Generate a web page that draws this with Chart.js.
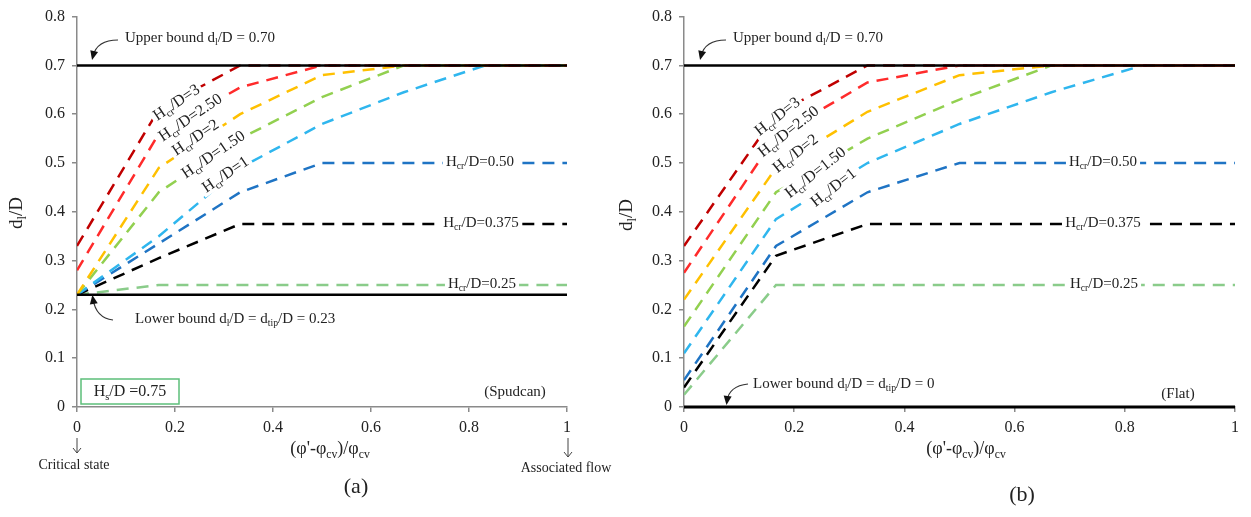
<!DOCTYPE html>
<html>
<head>
<meta charset="utf-8">
<script src="https://cdn.jsdelivr.net/npm/chart.js@4.4.0/dist/chart.umd.min.js"></script>
<style>
  html, body { margin: 0; padding: 0; background: #fff; }
  #wrap { position: relative; width: 1251px; height: 517px; }
  #wrap canvas { position: absolute; left: 0; top: 0; }
</style>
</head>
<body>
<div id="wrap">
  <canvas id="chartA" width="1251" height="517"></canvas>
  <canvas id="chartB" width="1251" height="517"></canvas>
</div>
<script>
// x positions of the computed points, (phi'-phi_cv)/phi_cv
var xSteps = [0, 0.167, 0.333, 0.5, 0.667, 0.833, 1];
var boundX = [0, 1];

var yTickValues = [0, 0.1, 0.2, 0.3, 0.4, 0.5, 0.6, 0.7, 0.8];
var yTickLabels = ['0', '0.1', '0.2', '0.3', '0.4', '0.5', '0.6', '0.7', '0.8'];
var xTickValues = [0, 0.2, 0.4, 0.6, 0.8, 1];
var xTickLabels = ['0', '0.2', '0.4', '0.6', '0.8', '1'];

// Hcr/D values, one per dashed curve
var ratioLabels = ['3', '2.50', '2', '1.50', '1', '0.50', '0.375', '0.25'];
var ratioColors = ['#C00000', '#FF2B2B', '#FFC000', '#92D050', '#2FB6EE', '#1F74C4', '#000000', '#8ACC8A'];

// (a) spudcan, Hs/D = 0.75
var spudH3    = [0.33, 0.61, 0.70, 0.70, 0.70, 0.70, 0.70];
var spudH250  = [0.28, 0.56, 0.655, 0.70, 0.70, 0.70, 0.70];
var spudH2    = [0.23, 0.49, 0.60, 0.68, 0.70, 0.70, 0.70];
var spudH150  = [0.23, 0.44, 0.55, 0.635, 0.70, 0.70, 0.70];
var spudH1    = [0.23, 0.35, 0.49, 0.58, 0.645, 0.70, 0.70];
var spudH050  = [0.23, 0.335, 0.44, 0.50, 0.50, 0.50, 0.50];
var spudH0375 = [0.23, 0.305, 0.375, 0.375, 0.375, 0.375, 0.375];
var spudH025  = [0.23, 0.25, 0.25, 0.25, 0.25, 0.25, 0.25];
var spudUpper = [0.70, 0.70];
var spudLower = [0.23, 0.23];

// (b) flat footing
var flatH3    = [0.33, 0.60, 0.70, 0.70, 0.70, 0.70, 0.70];
var flatH250  = [0.275, 0.555, 0.665, 0.70, 0.70, 0.70, 0.70];
var flatH2    = [0.22, 0.49, 0.605, 0.68, 0.70, 0.70, 0.70];
var flatH150  = [0.165, 0.44, 0.55, 0.63, 0.70, 0.70, 0.70];
var flatH1    = [0.11, 0.385, 0.50, 0.58, 0.645, 0.70, 0.70];
var flatH050  = [0.055, 0.33, 0.44, 0.50, 0.50, 0.50, 0.50];
var flatH0375 = [0.04, 0.31, 0.375, 0.375, 0.375, 0.375, 0.375];
var flatH025  = [0.025, 0.25, 0.25, 0.25, 0.25, 0.25, 0.25];
var flatUpper = [0.70, 0.70];
var flatLower = [0, 0];

var SERIF = '"Liberation Serif", "Times New Roman", serif';
var INK = '#222';

function pair(xs, ys) {
    return xs.map(function (x, i) { return { x: x, y: ys[i] }; });
}

function makeSets(curves, upper, lower, lowerWidth) {
    var sets = [
        { data: pair(boundX, upper), borderColor: '#000', borderWidth: 2.5, clip: false },
        { data: pair(boundX, lower), borderColor: '#000', borderWidth: lowerWidth, clip: false }
    ];
    curves.forEach(function (vals, i) {
        sets.push({
            data: pair(xSteps, vals),
            borderColor: ratioColors[i],
            borderWidth: 2.5,
            borderDash: [12, 8],
            tension: 0
        });
    });
    return sets;
}

// text with subscripts: parts = [[text, isSub], ...]
function richWidth(ctx, parts, size) {
    var w = 0;
    parts.forEach(function (p) {
        ctx.font = (p[1] ? size * 0.65 : size) + 'px ' + SERIF;
        w += ctx.measureText(p[0]).width;
    });
    return w;
}
function drawRich(ctx, parts, x, y, size, align) {
    var w = richWidth(ctx, parts, size);
    var cx = align === 'left' ? x : x - w / 2;
    var base = y + size * 0.33;
    ctx.textAlign = 'left';
    ctx.textBaseline = 'alphabetic';
    parts.forEach(function (p) {
        var s = p[1] ? size * 0.65 : size;
        ctx.font = s + 'px ' + SERIF;
        ctx.fillText(p[0], cx, base + (p[1] ? size * 0.22 : 0));
        cx += ctx.measureText(p[0]).width;
    });
    return w;
}
function hcr(val) {
    return [['H'], ['cr', 1], ['/D=' + val]];
}
function label(ctx, parts, x, y, size, angleDeg, bg) {
    ctx.save();
    ctx.translate(x, y);
    ctx.rotate(angleDeg * Math.PI / 180);
    if (bg) {
        var w = richWidth(ctx, parts, size);
        ctx.fillStyle = '#fff';
        ctx.fillRect(-w / 2 - 3, -size * 0.5, w + 6, size * 1.05);
    }
    ctx.fillStyle = INK;
    drawRich(ctx, parts, 0, 0, size, 'center');
    ctx.restore();
}
function curvedArrow(ctx, x0, y0, cx, cy, x1, y1) {
    ctx.save();
    ctx.strokeStyle = '#333';
    ctx.fillStyle = '#111';
    ctx.lineWidth = 1.2;
    ctx.beginPath();
    ctx.moveTo(x0, y0);
    ctx.quadraticCurveTo(cx, cy, x1, y1);
    ctx.stroke();
    var a = Math.atan2(y1 - cy, x1 - cx);
    ctx.beginPath();
    ctx.moveTo(x1 + Math.cos(a) * 4, y1 + Math.sin(a) * 4);
    ctx.lineTo(x1 - Math.cos(a) * 5 + Math.sin(a) * 4, y1 - Math.sin(a) * 5 - Math.cos(a) * 4);
    ctx.lineTo(x1 - Math.cos(a) * 5 - Math.sin(a) * 4, y1 - Math.sin(a) * 5 + Math.cos(a) * 4);
    ctx.closePath();
    ctx.fill();
    ctx.restore();
}
function downArrow(ctx, x, y0, y1) {
    ctx.save();
    ctx.strokeStyle = '#444';
    ctx.lineWidth = 1;
    ctx.beginPath();
    ctx.moveTo(x, y0);
    ctx.lineTo(x, y1);
    ctx.moveTo(x - 4, y1 - 5);
    ctx.lineTo(x, y1);
    ctx.lineTo(x + 4, y1 - 5);
    ctx.stroke();
    ctx.restore();
}

var axisTitleX = [['(φ\'-φ'], ['cv', 1], [')/φ'], ['cv', 1]];
var axisTitleY = [['d'], ['l', 1], ['/D']];

function makeOptions(pad, yWidth) {
    return {
        responsive: false,
        animation: false,
        events: [],
        layout: { padding: pad },
        plugins: { legend: { display: false }, tooltip: { enabled: false } },
        elements: { point: { radius: 0 }, line: { tension: 0 } },
        scales: {
            x: {
                type: 'linear', min: 0, max: 1,
                afterFit: function (s) { s.height = 110; },
                afterBuildTicks: function (s) { s.ticks = xTickValues.map(function (v) { return { value: v }; }); },
                border: { display: true, color: '#8a8a8a', width: 1.5 },
                grid: { display: true, drawOnChartArea: false, drawTicks: true, tickLength: 5, color: '#8a8a8a', lineWidth: 1.5 },
                ticks: {
                    padding: 6, color: INK, font: { family: SERIF, size: 16 },
                    maxRotation: 0,
                    callback: function (v, i) { return xTickLabels[i]; }
                }
            },
            y: {
                type: 'linear', min: 0, max: 0.8,
                afterFit: function (s) { s.width = yWidth; },
                afterBuildTicks: function (s) { s.ticks = yTickValues.map(function (v) { return { value: v }; }); },
                border: { display: true, color: '#8a8a8a', width: 1.5 },
                grid: { display: true, drawOnChartArea: false, drawTicks: true, tickLength: 5, color: '#8a8a8a', lineWidth: 1.5 },
                ticks: {
                    padding: 7, color: INK, font: { family: SERIF, size: 16 },
                    callback: function (v, i) { return yTickLabels[i]; }
                }
            }
        }
    };
}

var notesA = {
    id: 'notesA',
    afterDatasetsDraw: function (chart) {
        var ctx = chart.ctx;
        var rot = [[176, 102], [190, 117], [195, 137], [213, 154], [225, 174]];
        rot.forEach(function (p, i) { label(ctx, hcr(ratioLabels[i]), p[0], p[1], 16, -34, true); });
        label(ctx, hcr(ratioLabels[5]), 480, 161, 15, 0, true);
        label(ctx, hcr(ratioLabels[6]), 481, 222, 15, 0, true);
        label(ctx, hcr(ratioLabels[7]), 482, 283, 15, 0, true);

        ctx.fillStyle = INK;
        drawRich(ctx, [['Upper bound d'], ['l', 1], ['/D = 0.70']], 125, 37, 15, 'left');
        curvedArrow(ctx, 118, 40, 97, 40, 93, 56);
        drawRich(ctx, [['Lower bound d'], ['l', 1], ['/D = d'], ['tip', 1], ['/D = 0.23']], 135, 318, 15, 'left');
        curvedArrow(ctx, 113, 320, 96, 318, 93, 299);

        drawRich(ctx, [['(Spudcan)']], 515, 391, 15, 'center');

        ctx.save();
        ctx.strokeStyle = '#5CBF7A';
        ctx.lineWidth = 1.5;
        ctx.fillStyle = '#fff';
        ctx.fillRect(81, 379, 98, 25);
        ctx.strokeRect(81, 379, 98, 25);
        ctx.restore();
        ctx.fillStyle = INK;
        drawRich(ctx, [['H'], ['s', 1], ['/D =0.75']], 130, 391, 16, 'center');

        drawRich(ctx, axisTitleX, 330, 448, 18, 'center');
        drawRich(ctx, [['(a)']], 356, 486, 22, 'center');
        downArrow(ctx, 77, 438, 453);
        drawRich(ctx, [['Critical state']], 74, 464, 14, 'center');
        downArrow(ctx, 568, 438, 457);
        drawRich(ctx, [['Associated flow']], 566, 467, 14, 'center');

        ctx.save();
        ctx.translate(16, 213);
        ctx.rotate(-Math.PI / 2);
        drawRich(ctx, axisTitleY, 0, 0, 19, 'center');
        ctx.restore();
    }
};

var notesB = {
    id: 'notesB',
    afterDatasetsDraw: function (chart) {
        var ctx = chart.ctx;
        var rot = [[777, 116], [788, 131], [795, 153], [815, 172], [833, 187]];
        rot.forEach(function (p, i) { label(ctx, hcr(ratioLabels[i]), p[0], p[1], 16, -38, true); });
        label(ctx, hcr(ratioLabels[5]), 1103, 161, 15, 0, true);
        label(ctx, hcr(ratioLabels[6]), 1103, 222, 15, 0, true);
        label(ctx, hcr(ratioLabels[7]), 1104, 283, 15, 0, true);

        ctx.fillStyle = INK;
        drawRich(ctx, [['Upper bound d'], ['l', 1], ['/D = 0.70']], 733, 37, 15, 'left');
        curvedArrow(ctx, 726, 40, 705, 40, 701, 56);
        drawRich(ctx, [['Lower bound d'], ['l', 1], ['/D = d'], ['tip', 1], ['/D = 0']], 753, 383, 15, 'left');
        curvedArrow(ctx, 748, 384, 729, 386, 727, 401);

        drawRich(ctx, [['(Flat)']], 1178, 393, 15, 'center');
        drawRich(ctx, axisTitleX, 966, 448, 18, 'center');
        drawRich(ctx, [['(b)']], 1022, 494, 22, 'center');

        ctx.save();
        ctx.translate(626, 215);
        ctx.rotate(-Math.PI / 2);
        drawRich(ctx, axisTitleY, 0, 0, 19, 'center');
        ctx.restore();
    }
};

new Chart(document.getElementById('chartA'), {
    type: 'line',
    data: {
        datasets: makeSets([spudH3, spudH250, spudH2, spudH150, spudH1, spudH050, spudH0375, spudH025],
            spudUpper, spudLower, 2.5)
    },
    options: makeOptions({ left: 0, right: 684, top: 14, bottom: 0 }, 77),
    plugins: [notesA]
});

new Chart(document.getElementById('chartB'), {
    type: 'line',
    data: {
        datasets: makeSets([flatH3, flatH250, flatH2, flatH150, flatH1, flatH050, flatH0375, flatH025],
            flatUpper, flatLower, 3)
    },
    options: makeOptions({ left: 600, right: 16, top: 13, bottom: 0 }, 84),
    plugins: [notesB]
});
</script>
</body>
</html>
